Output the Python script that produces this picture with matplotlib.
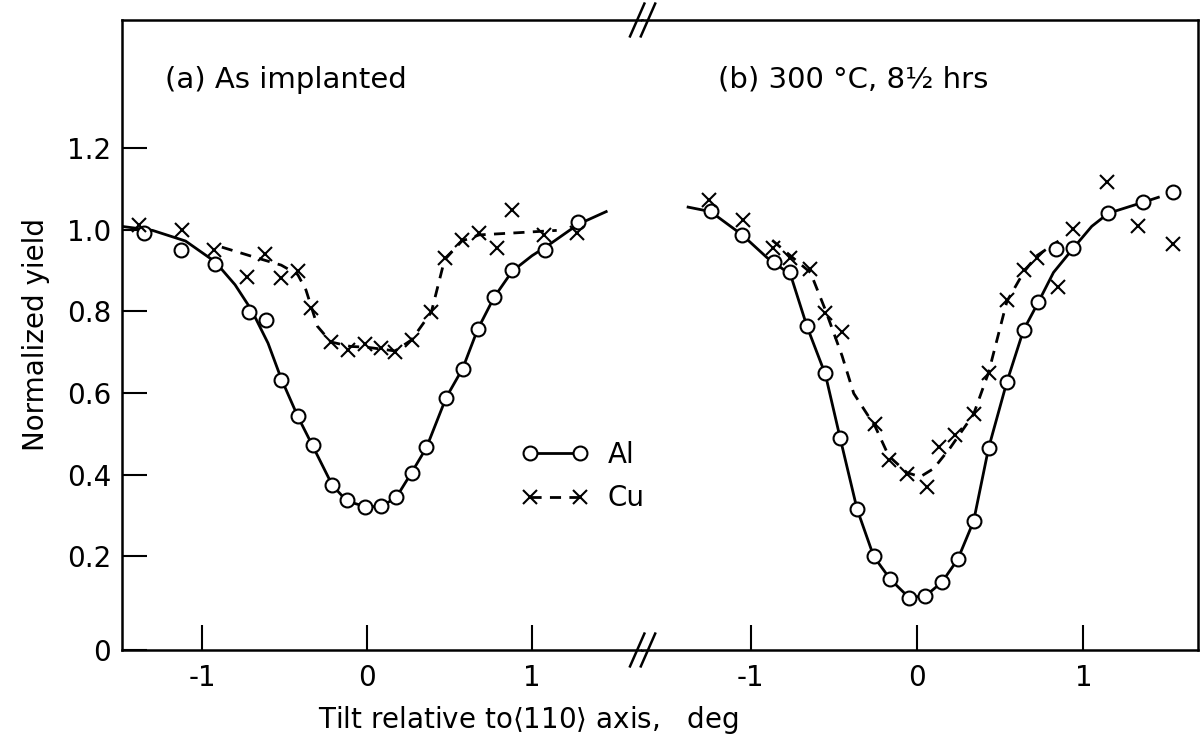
import matplotlib
matplotlib.use("Agg")
import matplotlib.pyplot as plt
from matplotlib.lines import Line2D

# (a) as implanted
a_al_x = [-1.35, -1.13, -0.92, -0.715, -0.61, -0.52, -0.42, -0.33, -0.21, -0.12, -0.01,
          0.085, 0.175, 0.27, 0.36, 0.48, 0.58, 0.67, 0.77, 0.88, 1.08, 1.28]
a_al_y = [0.991, 0.949, 0.916, 0.798, 0.779, 0.632, 0.544, 0.472, 0.374, 0.337, 0.321,
          0.323, 0.345, 0.404, 0.468, 0.588, 0.658, 0.756, 0.835, 0.900, 0.949, 1.018]
a_al_fit_x = [-1.49, -1.3, -1.1, -0.92, -0.8, -0.7, -0.6, -0.52, -0.42, -0.33, -0.21, -0.12, 0.0,
              0.085, 0.175, 0.27, 0.36, 0.48, 0.58, 0.67, 0.77, 0.88, 1.0, 1.1, 1.28, 1.45]
a_al_fit_y = [1.008, 0.998, 0.972, 0.921, 0.865, 0.803, 0.722, 0.635, 0.543, 0.471, 0.374, 0.335, 0.321,
              0.323, 0.343, 0.405, 0.466, 0.589, 0.660, 0.755, 0.834, 0.898, 0.936, 0.962, 1.013, 1.044]
a_cu_x = [-1.38, -1.12, -0.93, -0.73, -0.62, -0.52, -0.42, -0.34, -0.22, -0.115, -0.01,
          0.085, 0.17, 0.27, 0.39, 0.47, 0.575, 0.68, 0.79, 0.88, 1.07, 1.27]
a_cu_y = [1.011, 0.998, 0.949, 0.884, 0.941, 0.881, 0.898, 0.807, 0.725, 0.705, 0.720,
          0.710, 0.700, 0.730, 0.798, 0.930, 0.974, 0.991, 0.955, 1.048, 0.986, 0.991]
a_cu_fit_x = [-0.88, -0.67, -0.52, -0.42, -0.37, -0.3, -0.22, -0.1, 0.0, 0.17, 0.27, 0.39,
              0.47, 0.575, 0.68, 0.9, 1.15]
a_cu_fit_y = [0.957, 0.931, 0.913, 0.890, 0.852, 0.763, 0.725, 0.714, 0.712, 0.703, 0.730, 0.798,
              0.926, 0.972, 0.987, 0.992, 0.998]

# (b) 300 C, 8 1/2 hrs
b_al_x = [-1.24, -1.05, -0.86, -0.76, -0.66, -0.55, -0.46, -0.36, -0.26, -0.16, -0.05, 0.05,
          0.15, 0.245, 0.34, 0.43, 0.54, 0.64, 0.73, 0.835, 0.94, 1.15, 1.36, 1.54]
b_al_y = [1.046, 0.986, 0.921, 0.895, 0.763, 0.649, 0.490, 0.316, 0.200, 0.144, 0.098, 0.103,
          0.137, 0.193, 0.286, 0.465, 0.627, 0.754, 0.823, 0.952, 0.955, 1.040, 1.067, 1.092]
b_al_fit_x = [-1.375, -1.24, -1.05, -0.9, -0.76, -0.66, -0.55, -0.46, -0.36, -0.26, -0.16, -0.05,
              0.05, 0.15, 0.245, 0.34, 0.43, 0.54, 0.64, 0.73, 0.82, 0.94, 1.05, 1.15, 1.36, 1.45]
b_al_fit_y = [1.055, 1.044, 0.987, 0.931, 0.890, 0.762, 0.645, 0.487, 0.316, 0.200, 0.144, 0.100,
              0.103, 0.137, 0.193, 0.286, 0.465, 0.627, 0.754, 0.823, 0.895, 0.955, 1.008, 1.040, 1.067, 1.079]
b_cu_x = [-1.25, -1.045, -0.865, -0.76, -0.64, -0.55, -0.45, -0.25, -0.17, -0.06, 0.06, 0.13,
          0.23, 0.34, 0.43, 0.54, 0.64, 0.72, 0.85, 0.94, 1.14, 1.33, 1.54]
b_cu_y = [1.072, 1.023, 0.955, 0.930, 0.903, 0.795, 0.749, 0.524, 0.435, 0.402, 0.370, 0.468,
          0.497, 0.548, 0.649, 0.828, 0.900, 0.930, 0.860, 1.002, 1.116, 1.008, 0.964]
b_cu_fit_x = [-0.87, -0.76, -0.64, -0.55, -0.45, -0.38, -0.25, -0.17, -0.06, 0.02, 0.1, 0.2,
              0.34, 0.43, 0.54, 0.64, 0.72, 0.85]
b_cu_fit_y = [0.974, 0.936, 0.895, 0.803, 0.691, 0.599, 0.517, 0.446, 0.405, 0.395, 0.415, 0.466,
              0.548, 0.650, 0.824, 0.895, 0.936, 0.972]

ytick_vals = [0.2, 0.4, 0.6, 0.8, 1.0, 1.2]
xtick_vals = [-1, 0, 1]

plt.rcParams['font.family'] = ['DejaVu Sans']
plt.rcParams['mathtext.fontset'] = 'dejavusans'
FS = 20

fig = plt.figure(figsize=(12, 7.46), dpi=100)
ax1 = fig.add_axes([0.1017, 0.1287, 0.4333, 0.8445])
ax2 = fig.add_axes([0.535, 0.1287, 0.4633, 0.8445])

circ = dict(marker='o', ms=10, mfc='white', mec='black', mew=1.5, ls='none', zorder=3)
cross = dict(marker='x', ms=10, color='black', mew=1.5, ls='none', zorder=3)

def draw(ax, al_x, al_y, alf_x, alf_y, cu_x, cu_y, cuf_x, cuf_y):
    ax.plot(alf_x, alf_y, color='black', lw=2)
    ax.plot(cuf_x, cuf_y, color='black', lw=2, ls=(0, (4, 3)))
    ax.plot(al_x, al_y, **circ)
    ax.plot(cu_x, cu_y, **cross)

draw(ax1, a_al_x, a_al_y, a_al_fit_x, a_al_fit_y, a_cu_x, a_cu_y, a_cu_fit_x, a_cu_fit_y)
draw(ax2, b_al_x, b_al_y, b_al_fit_x, b_al_fit_y, b_cu_x, b_cu_y, b_cu_fit_x, b_cu_fit_y)

ymin, ymax = -0.029, 1.513
ax1.set_xlim(-1.485, 1.667)
ax2.set_xlim(-1.652, 1.688)
for ax in (ax1, ax2):
    ax.set_ylim(ymin, ymax)
    ax.set_xticks(xtick_vals)
    ax.set_xticklabels(['-1', '0', '1'])
    ax.tick_params(axis='x', direction='in', length=18, width=1.5, labelsize=FS, pad=10)
    for s in ax.spines.values():
        s.set_linewidth(1.8)

ax1.set_yticks([ymin] + ytick_vals)
ax1.set_yticklabels(['0', '0.2', '0.4', '0.6', '0.8', '1.0', '1.2'])
ax1.tick_params(axis='y', direction='in', length=18, width=1.5, labelsize=FS, pad=8)
ax1.spines['right'].set_visible(False)
ax2.spines['left'].set_visible(False)
ax2.set_yticks([])

ax1.set_ylabel('Normalized yield', fontsize=FS, labelpad=12)
fig.text(0.44, 0.035, r'Tilt relative to$\langle$110$\rangle$ axis,   deg',
         fontsize=FS, ha='center', va='center')

ax1.text(0.083, 0.905, '(a) As implanted', transform=ax1.transAxes, fontsize=21, va='center')
ax2.text(0.137, 0.905, '(b) 300 °C, 8½ hrs', transform=ax2.transAxes, fontsize=21, va='center')

handles = [Line2D([], [], color='black', lw=2, marker='o', ms=10, mfc='white', mec='black', mew=1.5),
           Line2D([], [], color='black', lw=2, ls=(0, (4, 3)), marker='x', ms=10, mew=1.5)]
ax1.legend(handles, ['Al', 'Cu'], loc='center left', bbox_to_anchor=(0.72, 0.275),
           frameon=False, numpoints=2, handlelength=2.4, fontsize=FS, labelspacing=0.55,
           handletextpad=0.7)

# axis break marks "//" on top and bottom spines
top_y = 0.1287 + 0.8445
for yc in (0.1287, top_y):
    for xc in (0.531, 0.540):
        fig.add_artist(Line2D([xc - 0.006, xc + 0.006], [yc - 0.022, yc + 0.022],
                              transform=fig.transFigure, color='black', lw=1.8))

fig.savefig('out.png', dpi=100)
